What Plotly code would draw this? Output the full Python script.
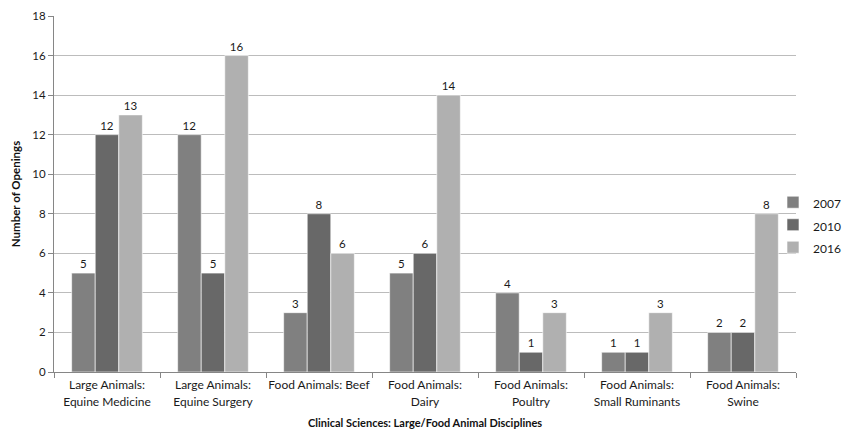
import plotly.graph_objects as go

categories = [
    "Large Animals:<br>Equine Medicine",
    "Large Animals:<br>Equine Surgery",
    "Food Animals: Beef",
    "Food Animals:<br>Dairy",
    "Food Animals:<br>Poultry",
    "Food Animals:<br>Small Ruminants",
    "Food Animals:<br>Swine",
]
series_names = ["2007", "2010", "2016"]
values_2007 = [5, 12, 3, 5, 4, 1, 2]
values_2010 = [12, 5, 8, 6, 1, 1, 2]
values_2016 = [13, 16, 6, 14, 3, 3, 8]

colors = ["#808080", "#686868", "#b0b0b0"]

FONT = "Lato, Liberation Sans, sans-serif"
LABEL_PX = 12


def sized(text, px):
    # wrap each line in a span so the glyphs are smaller than the line pitch
    return "<br>".join(f"<span style='font-size:{px}px'>{part}</span>"
                       for part in text.split("<br>"))


tick_text = [sized(c, LABEL_PX) for c in categories]

fig = go.Figure()
for name, vals, color in zip(series_names, [values_2007, values_2010, values_2016], colors):
    fig.add_trace(go.Bar(
        name=sized(name, 12),
        x=categories,
        y=vals,
        text=[str(v) for v in vals],
        textposition="outside",
        textfont=dict(size=11.5, color="#1a1a1a", family=FONT),
        cliponaxis=False,
        marker=dict(color=color, line=dict(color="#ffffff", width=0.6)),
    ))

fig.update_layout(
    width=851,
    height=429,
    margin=dict(l=54, r=55, t=16, b=57, autoexpand=False),
    paper_bgcolor="white",
    plot_bgcolor="white",
    barmode="group",
    bargap=0.333,
    bargroupgap=0,
    font=dict(family=FONT, size=11.5, color="#1a1a1a"),
    legend=dict(
        x=0.969, y=0.413, xanchor="left", yanchor="middle",
        font=dict(size=15, family=FONT, color="#1a1a1a"),
        bgcolor="rgba(0,0,0,0)",
        itemwidth=30,
        tracegroupgap=0,
    ),
    xaxis=dict(
        showline=True, linecolor="#868686", linewidth=1,
        ticks="outside", ticklen=5, tickcolor="#868686",
        tickson="boundaries", tickangle=0, automargin=False,
        tickmode="array", tickvals=categories, ticktext=tick_text,
        tickfont=dict(size=13.2, family=FONT, color="#1a1a1a"),
        title=dict(text="<b>Clinical Sciences: Large/Food Animal Disciplines</b>",
                   font=dict(size=11, family=FONT, color="#111111"), standoff=12),
    ),
    yaxis=dict(
        range=[0, 18], dtick=2, automargin=False,
        showline=True, linecolor="#868686", linewidth=1,
        ticks="outside", ticklen=5, tickcolor="#868686",
        showgrid=True, gridcolor="#bcbcbc", gridwidth=1,
        zeroline=False,
        tickfont=dict(size=11.5, family=FONT, color="#1a1a1a"),
        title=dict(text="<b>Number of Openings</b>",
                   font=dict(size=11.5, family=FONT, color="#111111"), standoff=9),
    ),
)

fig.write_html("out.html")
